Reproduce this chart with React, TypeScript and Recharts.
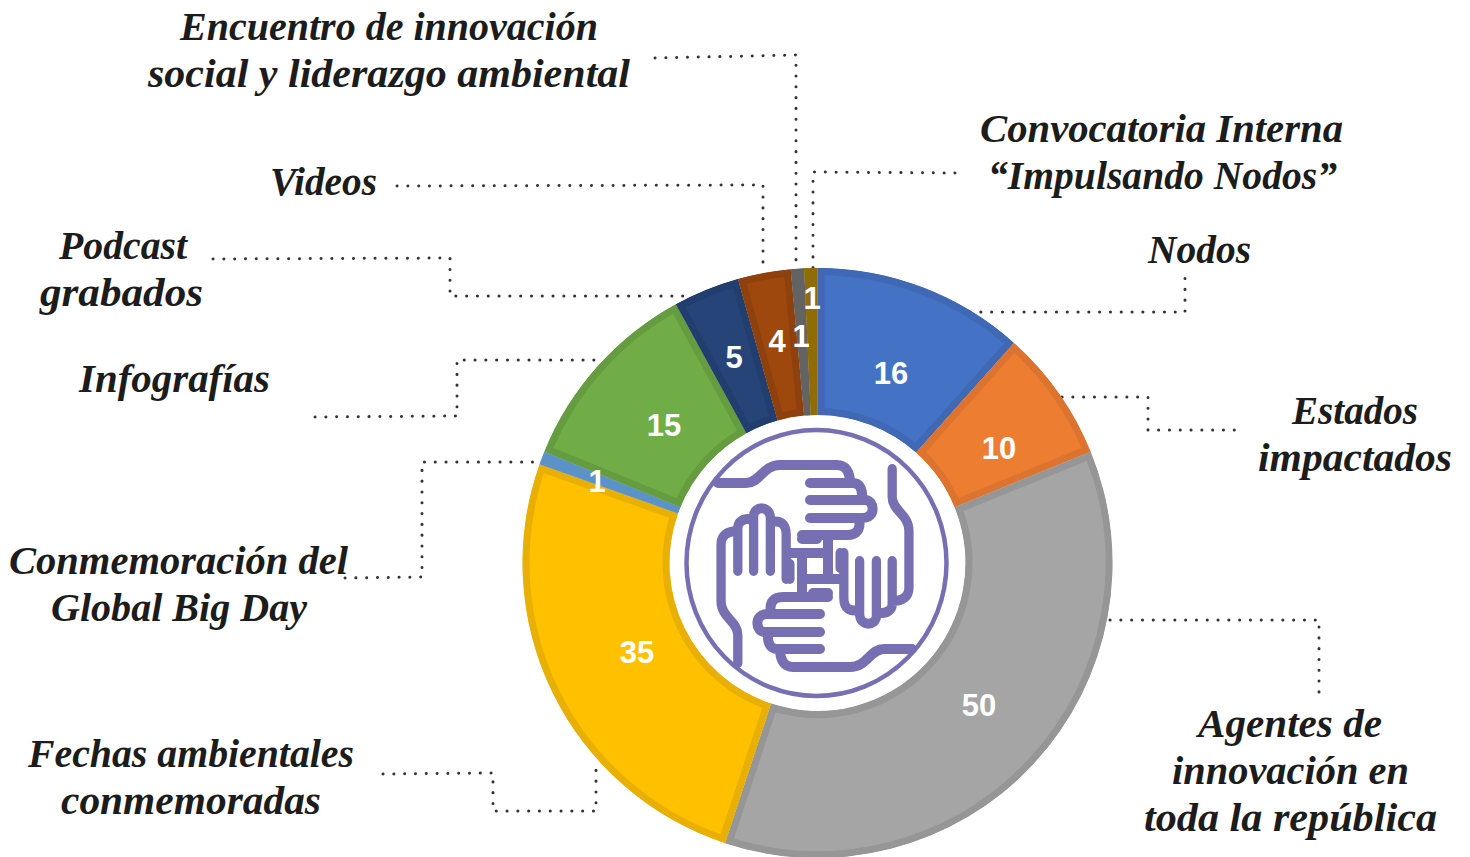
import React from 'react';
import { PieChart, Pie, Cell, Sector } from 'recharts';

const categories = [
  'Nodos',
  'Estados impactados',
  'Agentes de innovación en toda la república',
  'Fechas ambientales conmemoradas',
  'Conmemoración del Global Big Day',
  'Infografías',
  'Podcast grabados',
  'Videos',
  'Encuentro de innovación social y liderazgo ambiental',
  'Convocatoria Interna “Impulsando Nodos”',
];
const values = [16, 10, 50, 35, 1, 15, 5, 4, 1, 1];

const fills = ['#4472C4', '#ED7D31', '#A5A5A5', '#FFC000', '#5B93C9', '#70AD47', '#264478', '#9E480E', '#636363', '#8F6C05'];
const borders = ['#3F69B4', '#DC7430', '#969696', '#E8AF05', '#5B93C9', '#659C40', '#223E6E', '#8F410D', '#636363', '#8F6C05'];

// x, baseline of the value labels
const valueSpots = [
  [891, 384], [999, 459], [979, 716], [637, 663], [597, 492],
  [664, 436], [734, 368], [777, 352], [801, 347], [812, 309],
];

// [text, left, baseline, width]
const calloutLines: [string, number, number, number][] = [
  ['Encuentro de innovación', 180, 40, 418],
  ['social y liderazgo ambiental', 148, 87, 482],
  ['Convocatoria Interna', 980, 142, 363],
  ['“Impulsando Nodos”', 988, 189, 349],
  ['Nodos', 1148, 263, 103],
  ['Estados', 1292, 424, 126],
  ['impactados', 1258, 471, 194],
  ['Agentes de', 1198, 737, 184],
  ['innovación en', 1172, 784, 237],
  ['toda la república', 1144, 831, 293],
  ['Videos', 270, 195, 107],
  ['Podcast', 59, 259, 128],
  ['grabados', 40, 306, 163],
  ['Infografías', 79, 392, 191],
  ['Conmemoración del', 9, 574, 339],
  ['Global Big Day', 51, 621, 256],
  ['Fechas ambientales', 28, 767, 326],
  ['conmemoradas', 61, 814, 260],
];

const leaders = [
  '655,58 796,55 796,268',
  '955,173 813,172 813,268',
  '397,186 763,185 763,268',
  '213,259 450,258 450,296 690,296',
  '315,417 457,416 457,360 600,360',
  '345,578 422,577 422,462 540,462',
  '383,774 493,773 493,811 596,811 596,760',
  '1110,620 1319,620 1319,692',
  '1062,397 1148,397 1148,430 1235,430',
  '970,312 1185,312 1185,275',
];

const chartData = categories.map((name, i) => ({ name, value: values[i] }));

const CX = 817.5;
const CY = 563;
const PURPLE = '#7670B2';

// one hand of the logo, the other three are this one turned by 90 degrees
const HAND =
  'M-97,-83 H-69 C-55,-83 -52,-101 -35,-101 H22 C30,-101 35,-95 35,-83 ' +
  'M-5,-83 H38 C44,-83 48,-78 47,-66 ' +
  'M-5,-66 H50 C60,-66 61,-48 48,-48 H-5 ' +
  'M44,-47 C46,-37 42,-31 32,-31 H-13 M-13,-27 H2 ' +
  'M13,-31 V8';

function Logo() {
  return (
    <g>
      <ellipse cx={816.5} cy={563} rx={130} ry={133} fill="#fff" stroke={PURPLE} strokeWidth={4.5} />
      {[0, 90, 180, 270].map((a) => (
        <path
          key={a}
          d={HAND}
          // left and right hands sit a little tighter than top and bottom
          transform={`translate(815 566) rotate(${a}) scale(1 ${a % 180 ? 0.93 : 1})`}
          fill="none"
          stroke={PURPLE}
          strokeWidth={10}
          strokeLinecap="round"
          strokeLinejoin="round"
        />
      ))}
    </g>
  );
}

// border drawn inside the slice: a double-width stroke clipped to the slice itself
function renderSlice(props: any) {
  const { index, fill, stroke } = props;
  const id = `slice-${index}`;
  return (
    <g>
      <clipPath id={id}>
        <Sector {...props} stroke="none" />
      </clipPath>
      <g clipPath={`url(#${id})`}>
        <Sector {...props} fill={fill} stroke={stroke} strokeWidth={14} />
      </g>
    </g>
  );
}

function renderValue(props: any) {
  const { index, value } = props;
  const [x, y] = valueSpots[index];
  return (
    <text
      key={index}
      x={x}
      y={y}
      textAnchor="middle"
      fill="#fff"
      fontFamily="Liberation Sans"
      fontWeight="bold"
      fontSize={31}
    >
      {value}
    </text>
  );
}

export default function App() {
  return (
    <div style={{ position: 'absolute', left: 0, top: 0, width: 1470, height: 857, overflow: 'hidden', background: '#fff' }}>
      <PieChart width={1470} height={857} margin={{ top: 0, right: 0, bottom: 0, left: 0 }}>
        <Pie
          data={chartData}
          dataKey="value"
          nameKey="name"
          cx={CX}
          cy={CY}
          innerRadius={148}
          outerRadius={295}
          startAngle={90}
          endAngle={-270}
          paddingAngle={0}
          shape={renderSlice}
          label={renderValue}
          labelLine={false}
          isAnimationActive={false}
        >
          {chartData.map((d, i) => (
            <Cell key={d.name} fill={fills[i]} stroke={borders[i]} />
          ))}
        </Pie>
        <Logo />
        {leaders.map((pts) => (
          <polyline
            key={pts}
            points={pts}
            fill="none"
            stroke="#333"
            strokeWidth={3}
            strokeDasharray="0.1 10.7"
            strokeLinecap="round"
          />
        ))}
        {calloutLines.map(([text, x, y, w]) => (
          <text
            key={text}
            x={x}
            y={y}
            textLength={w}
            lengthAdjust="spacingAndGlyphs"
            fontFamily="Liberation Serif"
            fontStyle="italic"
            fontWeight="bold"
            fontSize={39}
            fill="#1c1c1c"
          >
            {text}
          </text>
        ))}
      </PieChart>
    </div>
  );
}
